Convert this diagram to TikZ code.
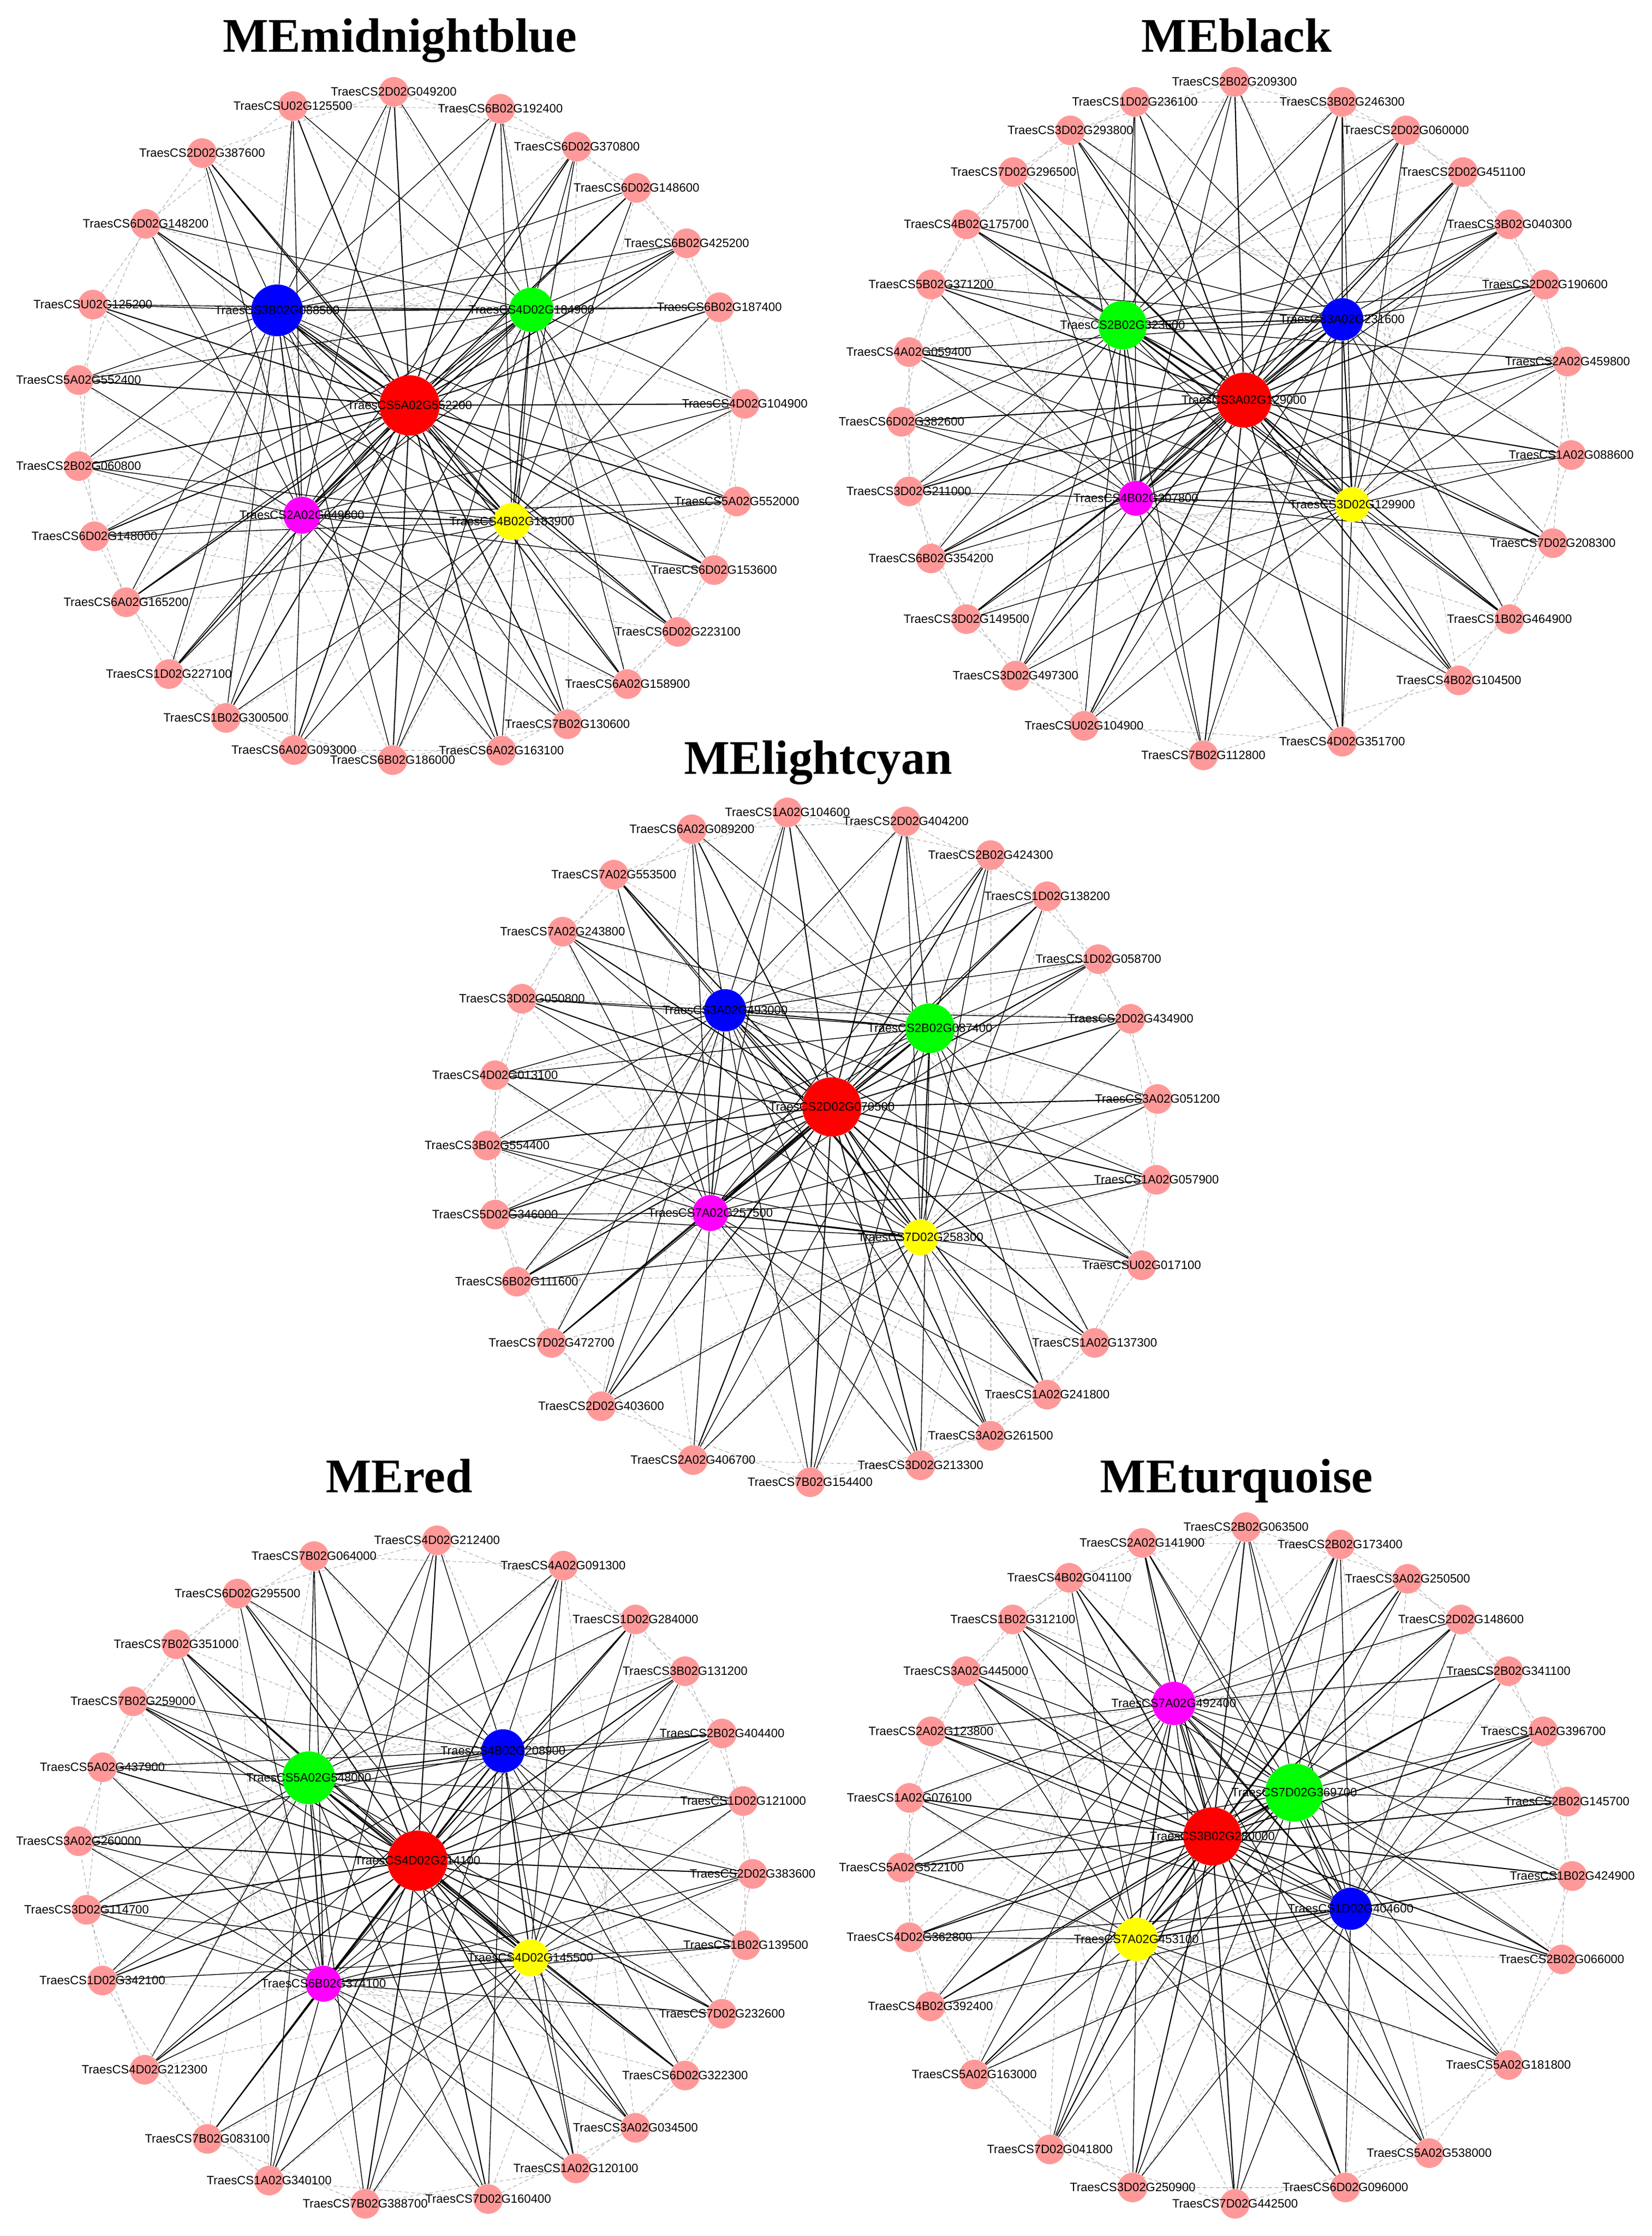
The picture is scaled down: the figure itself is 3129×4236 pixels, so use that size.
\documentclass[tikz,border=0pt]{standalone}
\usepackage{fontspec}
\setmainfont{Liberation Sans}
\newfontfamily\titlefont{Liberation Serif}
\usetikzlibrary{backgrounds}
\definecolor{genepink}{RGB}{255,153,153}
\definecolor{hubred}{RGB}{255,0,0}
\definecolor{hubgreen}{RGB}{0,255,0}
\definecolor{hubblue}{RGB}{0,0,255}
\definecolor{hubmagenta}{RGB}{255,0,255}
\definecolor{hubyellow}{RGB}{255,255,0}
\begin{document}
\begin{tikzpicture}[x=0.01cm, y=-0.01cm,
    gene/.style={circle, fill=genepink, inner sep=0pt, minimum size=0.56cm},
    hub/.style={circle, inner sep=0pt},
    glabel/.style={font=\fontsize{6.5}{7}\selectfont, inner sep=0pt},
    modtitle/.style={font=\titlefont\bfseries\fontsize{26}{30}\selectfont, anchor=base},
    strong/.style={line width=0.6pt},
    edge/.style={line width=0.4pt},
    weak/.style={line width=0.2pt, black!45, dash pattern=on 2pt off 1.5pt}]
    \useasboundingbox (0,0) rectangle (3129,4236);

    % Module titles
    \node[modtitle] (t-mb) at (758,99) {MEmidnightblue};
    \node[modtitle] (t-bk) at (2343,99) {MEblack};
    \node[modtitle] (t-lc) at (1550,1466) {MElightcyan};
    \node[modtitle] (t-rd) at (756,2827) {MEred};
    \node[modtitle] (t-tq) at (2343,2827) {MEturquoise};

    % MEmidnightblue
    \foreach [count=\i] \x/\y/\t in {746/174/TraesCS2D02G049200, 948/206/TraesCS6B02G192400,
        1093/278/TraesCS6D02G370800, 1206/356/TraesCS6D02G148600, 1301/461/TraesCS6B02G425200,
        1363/582/TraesCS6B02G187400, 1411/765/TraesCS4D02G104900, 1396/950/TraesCS5A02G552000,
        1353/1080/TraesCS6D02G153600, 1284/1197/TraesCS6D02G223100, 1189/1296/TraesCS6A02G158900,
        1075/1372/TraesCS7B02G130600, 950/1422/TraesCS6A02G163100, 744/1440/TraesCS6B02G186000,
        557/1421/TraesCS6A02G093000, 428/1360/TraesCS1B02G300500, 320/1277/TraesCS1D02G227100,
        239/1141/TraesCS6A02G165200, 179/1016/TraesCS6D02G148000, 149/883/TraesCS2B02G060800,
        149/720/TraesCS5A02G552400, 176/577/TraesCSU02G125200, 276/424/TraesCS6D02G148200,
        383/290/TraesCS2D02G387600, 555/201/TraesCSU02G125500}
        \node[gene, label={[glabel]center:\t}] (mb-\i) at (\x,\y) {};
    \node[hub, fill=hubred, minimum size=1.14cm, label={[glabel]center:TraesCS5A02G552200}] (mb-R) at (776,768) {};
    \node[hub, fill=hubblue, minimum size=0.98cm, label={[glabel]center:TraesCS3B02G088500}] (mb-B) at (525,588) {};
    \node[hub, fill=hubgreen, minimum size=0.84cm, label={[glabel]center:TraesCS4D02G184900}] (mb-G) at (1007,587) {};
    \node[hub, fill=hubmagenta, minimum size=0.70cm, label={[glabel]center:TraesCS2A02G049800}] (mb-M) at (572,976) {};
    \node[hub, fill=hubyellow, minimum size=0.70cm, label={[glabel]center:TraesCS4B02G183900}] (mb-Y) at (970,988) {};

    % MEblack
    \foreach [count=\i] \x/\y/\t in {2339/155/TraesCS2B02G209300, 2543/193/TraesCS3B02G246300,
        2664/247/TraesCS2D02G060000, 2772/326/TraesCS2D02G451100, 2860/425/TraesCS3B02G040300,
        2927/539/TraesCS2D02G190600, 2970/685/TraesCS2A02G459800, 2977/862/TraesCS1A02G088600,
        2942/1029/TraesCS7D02G208300, 2860/1173/TraesCS1B02G464900, 2764/1289/TraesCS4B02G104500,
        2543/1405/TraesCS4D02G351700, 2280/1431/TraesCS7B02G112800, 2054/1375/TraesCSU02G104900,
        1924/1280/TraesCS3D02G497300, 1831/1173/TraesCS3D02G149500, 1764/1058/TraesCS6B02G354200,
        1722/931/TraesCS3D02G211000, 1708/799/TraesCS6D02G382600, 1722/667/TraesCS4A02G059400,
        1764/539/TraesCS5B02G371200, 1831/425/TraesCS4B02G175700, 1920/326/TraesCS7D02G296500,
        2028/247/TraesCS3D02G293800, 2150/193/TraesCS1D02G236100}
        \node[gene, label={[glabel]center:\t}] (bk-\i) at (\x,\y) {};
    \node[hub, fill=hubred, minimum size=1.04cm, label={[glabel]center:TraesCS3A02G129000}] (bk-R) at (2357,758) {};
    \node[hub, fill=hubgreen, minimum size=0.92cm, label={[glabel]center:TraesCS2B02G323600}] (bk-G) at (2127,616) {};
    \node[hub, fill=hubblue, minimum size=0.80cm, label={[glabel]center:TraesCS3A02G231600}] (bk-B) at (2543,605) {};
    \node[hub, fill=hubmagenta, minimum size=0.66cm, label={[glabel]center:TraesCS4B02G307800}] (bk-M) at (2152,944) {};
    \node[hub, fill=hubyellow, minimum size=0.66cm, label={[glabel]center:TraesCS3D02G129900}] (bk-Y) at (2562,956) {};

    % MElightcyan
    \foreach [count=\i] \x/\y/\t in {1492/1539/TraesCS1A02G104600, 1716/1556/TraesCS2D02G404200,
        1877/1620/TraesCS2B02G424300, 1984/1698/TraesCS1D02G138200, 2081/1817/TraesCS1D02G058700,
        2142/1930/TraesCS2D02G434900, 2193/2082/TraesCS3A02G051200, 2191/2235/TraesCS1A02G057900,
        2163/2397/TraesCSU02G017100, 2074/2544/TraesCS1A02G137300, 1984/2642/TraesCS1A02G241800,
        1877/2720/TraesCS3A02G261500, 1744/2776/TraesCS3D02G213300, 1535/2808/TraesCS7B02G154400,
        1313/2766/TraesCS2A02G406700, 1139/2664/TraesCS2D02G403600, 1045/2544/TraesCS7D02G472700,
        979/2428/TraesCS6B02G111600, 938/2301/TraesCS5D02G346000, 923/2170/TraesCS3B02G554400,
        938/2037/TraesCS4D02G013100, 989/1892/TraesCS3D02G050800, 1066/1765/TraesCS7A02G243800,
        1163/1657/TraesCS7A02G553500, 1311/1571/TraesCS6A02G089200}
        \node[gene, label={[glabel]center:\t}] (lc-\i) at (\x,\y) {};
    \node[hub, fill=hubred, minimum size=1.12cm, label={[glabel]center:TraesCS2D02G070500}] (lc-R) at (1576,2097) {};
    \node[hub, fill=hubgreen, minimum size=0.94cm, label={[glabel]center:TraesCS2B02G087400}] (lc-G) at (1762,1948) {};
    \node[hub, fill=hubblue, minimum size=0.80cm, label={[glabel]center:TraesCS3A02G493000}] (lc-B) at (1374,1914) {};
    \node[hub, fill=hubmagenta, minimum size=0.68cm, label={[glabel]center:TraesCS7A02G257500}] (lc-M) at (1346,2298) {};
    \node[hub, fill=hubyellow, minimum size=0.68cm, label={[glabel]center:TraesCS7D02G258300}] (lc-Y) at (1744,2344) {};

    % MEred
    \foreach [count=\i] \x/\y/\t in {828/2918/TraesCS4D02G212400, 1067/2966/TraesCS4A02G091300,
        1204/3068/TraesCS1D02G284000, 1298/3166/TraesCS3B02G131200, 1368/3284/TraesCS2B02G404400,
        1408/3412/TraesCS1D02G121000, 1426/3550/TraesCS2D02G383600, 1413/3685/TraesCS1B02G139500,
        1368/3815/TraesCS7D02G232600, 1298/3932/TraesCS6D02G322300, 1204/4031/TraesCS3A02G034500,
        1091/4108/TraesCS1A02G120100, 925/4166/TraesCS7D02G160400, 692/4175/TraesCS7B02G388700,
        510/4131/TraesCS1A02G340100, 393/4052/TraesCS7B02G083100, 274/3921/TraesCS4D02G212300,
        194/3752/TraesCS1D02G342100, 164/3618/TraesCS3D02G114700, 149/3488/TraesCS3A02G260000,
        194/3348/TraesCS5A02G437900, 252/3223/TraesCS7B02G259000, 334/3115/TraesCS7B02G351000,
        450/3019/TraesCS6D02G295500, 595/2948/TraesCS7B02G064000}
        \node[gene, label={[glabel]center:\t}] (rd-\i) at (\x,\y) {};
    \node[hub, fill=hubred, minimum size=1.14cm, label={[glabel]center:TraesCS4D02G214100}] (rd-R) at (791,3525) {};
    \node[hub, fill=hubgreen, minimum size=1.00cm, label={[glabel]center:TraesCS5A02G548000}] (rd-G) at (585,3368) {};
    \node[hub, fill=hubblue, minimum size=0.82cm, label={[glabel]center:TraesCS4B02G208900}] (rd-B) at (953,3317) {};
    \node[hub, fill=hubmagenta, minimum size=0.68cm, label={[glabel]center:TraesCS6B02G374100}] (rd-M) at (613,3758) {};
    \node[hub, fill=hubyellow, minimum size=0.70cm, label={[glabel]center:TraesCS4D02G145500}] (rd-Y) at (1005,3709) {};

    % MEturquoise
    \foreach [count=\i] \x/\y/\t in {2361/2893/TraesCS2B02G063500, 2539/2926/TraesCS2B02G173400,
        2667/2991/TraesCS3A02G250500, 2768/3068/TraesCS2D02G148600, 2858/3166/TraesCS2B02G341100,
        2924/3280/TraesCS1A02G396700, 2969/3413/TraesCS2B02G145700, 2979/3554/TraesCS1B02G424900,
        2959/3712/TraesCS2B02G066000, 2858/3912/TraesCS5A02G181800, 2708/4079/TraesCS5A02G538000,
        2549/4144/TraesCS6D02G096000, 2340/4175/TraesCS7D02G442500, 2146/4144/TraesCS3D02G250900,
        1989/4072/TraesCS7D02G041800, 1846/3930/TraesCS5A02G163000, 1763/3801/TraesCS4B02G392400,
        1723/3670/TraesCS4D02G362800, 1708/3538/TraesCS5A02G522100, 1723/3406/TraesCS1A02G076100,
        1764/3280/TraesCS2A02G123800, 1830/3166/TraesCS3A02G445000, 1919/3068/TraesCS1B02G312100,
        2026/2989/TraesCS4B02G041100, 2164/2923/TraesCS2A02G141900}
        \node[gene, label={[glabel]center:\t}] (tq-\i) at (\x,\y) {};
    \node[hub, fill=hubred, minimum size=1.10cm, label={[glabel]center:TraesCS3B02G280000}] (tq-R) at (2297,3479) {};
    \node[hub, fill=hubgreen, minimum size=1.10cm, label={[glabel]center:TraesCS7D02G369700}] (tq-G) at (2452,3396) {};
    \node[hub, fill=hubblue, minimum size=0.80cm, label={[glabel]center:TraesCS1D02G404600}] (tq-B) at (2559,3616) {};
    \node[hub, fill=hubmagenta, minimum size=0.82cm, label={[glabel]center:TraesCS7A02G492400}] (tq-M) at (2224,3227) {};
    \node[hub, fill=hubyellow, minimum size=0.82cm, label={[glabel]center:TraesCS7A02G453100}] (tq-Y) at (2153,3674) {};

    % Edges behind the nodes
    \begin{scope}[on background layer]
        \fill[white] (0,0) rectangle (3129,4236);
        \foreach \p in {mb,bk,lc,rd,tq} {
            % hub to hub
            \foreach \a/\b in {R/G,R/B,R/M,R/Y,G/B,G/M,G/Y,B/M,B/Y,M/Y}
                \draw[strong] (\p-\a) -- (\p-\b);
            \foreach \i in {1,...,25} {
                \draw[strong] (\p-R) -- (\p-\i);
                % other hubs skip every fourth gene
                \foreach \h/\s in {G/0,B/1,M/2,Y/3} {
                    \pgfmathtruncatemacro\q{mod(\i+\s,4)}
                    \ifnum\q>0
                        \draw[edge] (\p-\h) -- (\p-\i);
                    \fi
                }
                % weak gene to gene links
                \pgfmathtruncatemacro\j{mod(\i+1,25)+1}
                \pgfmathtruncatemacro\k{mod(\i+8,25)+1}
                \draw[weak] (\p-\i) -- (\p-\j);
                \draw[weak] (\p-\i) -- (\p-\k);
            }
        }
    \end{scope}
\end{tikzpicture}
\end{document}
